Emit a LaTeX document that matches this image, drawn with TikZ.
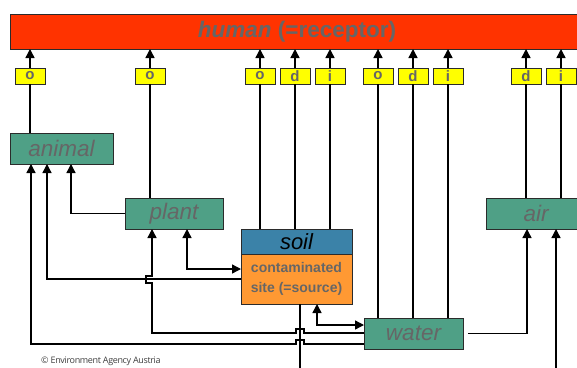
\documentclass[tikz,border=0pt]{standalone}
\usepackage{fontspec}
\setmainfont{Liberation Sans}
\newfontfamily\copyfont[LetterSpace=-4]{Open Sans}
\usetikzlibrary{arrows.meta}
\definecolor{humanred}{HTML}{FF3300}
\definecolor{boxyellow}{HTML}{FFFF00}
\definecolor{boxgreen}{HTML}{4FA086}
\definecolor{soilblue}{HTML}{3B82A8}
\definecolor{srcorange}{HTML}{FF9933}
\definecolor{txtgrey}{HTML}{666666}
\definecolor{edge}{HTML}{2B2B2B}
\tikzset{
  base/.style={rectangle, draw=edge, line width=0.9pt, inner sep=0pt, outer sep=0pt},
  humanbox/.style={base, fill=humanred, minimum width=574pt, minimum height=35pt,
    font=\fontsize{22.5}{24}\selectfont\bfseries, text=txtgrey},
  ybox/.style={base, fill=boxyellow, minimum width=30pt, minimum height=16pt,
    font=\fontsize{15}{15}\selectfont\bfseries, text=txtgrey},
  gbox/.style={base, fill=boxgreen, minimum height=31pt,
    font=\fontsize{22.5}{24}\selectfont\itshape, text=txtgrey},
  soilbox/.style={base, fill=soilblue, minimum width=111pt, minimum height=25pt,
    font=\fontsize{22}{24}\selectfont\itshape, text=black},
  srcbox/.style={base, fill=srcorange, minimum width=111pt, minimum height=50pt,
    font=\fontsize{14}{20}\selectfont\bfseries, text=txtgrey, align=center},
  conn/.style={line width=1.4pt, draw=black},
  arr/.style={conn, -{Triangle[length=9pt,width=9pt]}},
  dbl/.style={conn, {Triangle[length=9pt,width=9pt]}-{Triangle[length=9pt,width=9pt]}},
}
\begin{document}
\begin{tikzpicture}[x=1pt,y=-1pt]
\clip (0,0) rectangle (577,367);
\fill[white] (0,0) rectangle (577,367);

% receptor
\node[humanbox, anchor=north west] (human) at (10,14) {\textit{human} (=receptor)};

% pathway boxes
\node[ybox] (y1) at (30,76) {o};
\node[ybox] (y2) at (150,76) {o};
\node[ybox] (y3) at (260,76) {o};
\node[ybox] (y4) at (295,76) {d};
\node[ybox] (y5) at (330,76) {i};
\node[ybox] (y6) at (378,76) {o};
\node[ybox] (y7) at (413,76) {d};
\node[ybox] (y8) at (448,76) {i};
\node[ybox] (y9) at (526,76) {d};
\node[ybox] (y10) at (561,76) {i};

% media
\node[gbox, minimum width=103pt] (animal) at (61.5,148.5) {animal};
\node[gbox, minimum width=98pt] (plant) at (174,213.5) {plant};
\node[soilbox] (soil) at (296.5,241.5) {soil};
\node[srcbox, anchor=north] (cont) at (soil.south) {contaminated\\site (=source)};
\node[gbox, minimum width=99pt] (water) at (413.5,333.5) {water};
\node[gbox, minimum width=100pt] (air) at (536,213.5) {air};

\coordinate (soilout) at (300,375);
\coordinate (airin) at (556,375);

% yellow boxes to human
\foreach \i in {1,...,10} {
  \draw[arr] (y\i.north) -- (y\i.north |- human.south);
}

% media to yellow boxes
\draw[conn] (y1.south) -- (y1.south |- animal.north);
\draw[conn] (y2.south) -- (y2.south |- plant.north);
\draw[conn] (y3.south) -- (y3.south |- soil.north);
\draw[conn] (y4.south) -- (y4.south |- soil.north);
\draw[conn] (y5.south) -- (y5.south |- soil.north);
\draw[conn] (y6.south) -- (y6.south |- water.north);
\draw[conn] (y7.south) -- (y7.south |- water.north);
\draw[conn] (y8.south) -- (y8.south |- water.north);
\draw[conn] (y9.south) -- (y9.south |- air.north);
\draw[conn] (y10.south) -- (y10.south |- air.north);

% plant -> animal
\draw[arr] (plant.west) -| (71,0 |- animal.south);
% source -> animal
\draw[arr] (cont.west) -| (47,0 |- animal.south);
% plant <-> source
\draw[dbl] (187,0 |- plant.south) |- (cont.west |- 0,269);
% source <-> water
\draw[dbl] (317,0 |- cont.south) |- (water.west |- 0,325);
% source downwards
\draw[conn] (300,0 |- cont.south) -- (soilout);
% water -> plant (hops)
\draw[arr] (water.west |- 0,333) -- (304,333) -- (304,329) -- (296,329) -- (296,333)
  -- (152,333) -- (152,283) -- (146,283) -- (146,276) -- (152,276) -- (152,0 |- plant.south);
% water -> animal (hop)
\draw[arr] (water.west |- 0,344) -- (304,344) -- (304,340) -- (296,340) -- (296,344)
  -| (31,0 |- animal.south);
% water -> air
\draw[arr, shorten <=5pt] (water.east) -| (527,0 |- air.south);
% from below -> air
\draw[arr] (airin) -- (airin |- air.south);

% copyright
\node[font=\copyfont\fontsize{9}{9}\selectfont, text=black!75, anchor=west, inner sep=0pt] (copy) at (41,361) {© Environment Agency Austria};
\end{tikzpicture}
\end{document}
